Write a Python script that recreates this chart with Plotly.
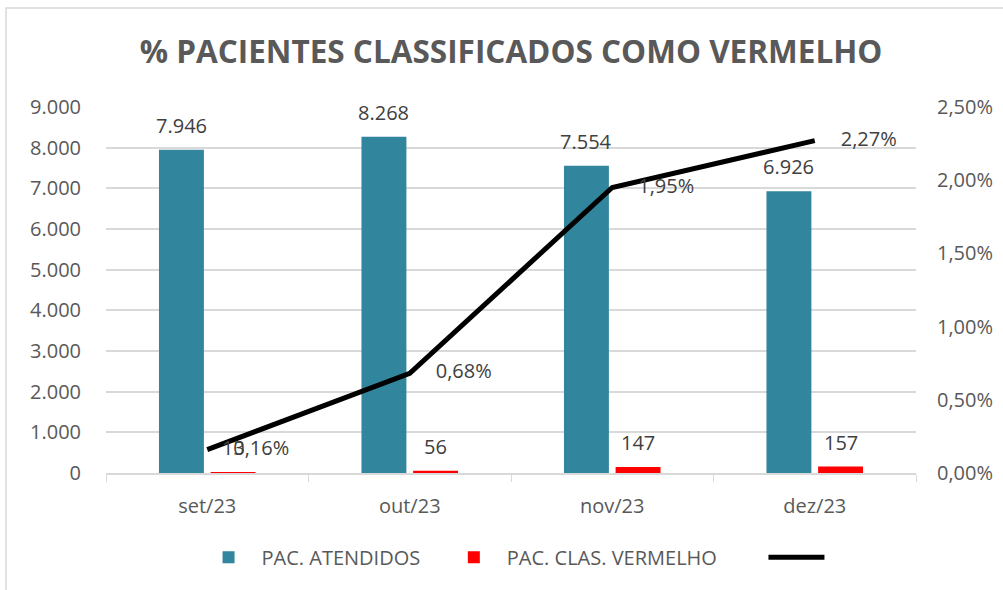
import plotly.graph_objects as go

# Monthly data
months = ["set/23", "out/23", "nov/23", "dez/23"]
atendidos = [7946, 8268, 7554, 6926]
vermelho = [13, 56, 147, 157]
pct_vermelho = [0.0016, 0.0068, 0.0195, 0.0227]

TEAL = "#31859C"
RED = "#FF0000"
TXT = "#595959"
LBL = "#404040"
GRID = "#D9D9D9"
FONT = "Open Sans"

BARGAP = 0.49
SLOT = (1 - BARGAP) / 2  # width of one bar slot inside a group, in category units

fig = go.Figure()

fig.add_trace(go.Bar(
    x=months, y=atendidos, name="PAC. ATENDIDOS   ",
    marker=dict(color=TEAL, line=dict(width=0)),
))
fig.add_trace(go.Bar(
    x=months, y=vermelho, name="PAC. CLAS. VERMELHO        ",
    marker=dict(color=RED, line=dict(width=0)),
))
fig.add_trace(go.Scatter(
    x=months, y=pct_vermelho, name="", yaxis="y2",
    mode="lines+text",
    line=dict(color="#000000", width=5),
    text=pct_vermelho, texttemplate="     %{y:.2%}", textposition="middle right",
    textfont=dict(family=FONT, size=20, color=LBL),
    cliponaxis=False,
))

# Value labels above each bar
for series, side in ((atendidos, -1), (vermelho, 1)):
    for i, v in enumerate(series):
        fig.add_annotation(
            x=i + side * SLOT / 2, y=v, xref="x", yref="y",
            text=f"{v:,}".replace(",", "."), showarrow=False,
            yanchor="bottom", yshift=9,
            font=dict(family=FONT, size=20, color=LBL),
        )

# Chart border
fig.add_shape(type="rect", xref="paper", yref="paper",
              x0=-0.1235, x1=1.3, y0=-0.5, y1=1.2705,
              line=dict(color=GRID, width=1.5), layer="below")

fig.update_layout(
    width=1003, height=590,
    margin=dict(l=106, r=87, t=107, b=117, autoexpand=False),
    paper_bgcolor="white", plot_bgcolor="white",
    separators=",.",
    barmode="group", bargap=BARGAP, bargroupgap=0.13,
    font=dict(family=FONT, size=20, color=TXT),
    title=dict(
        text="<b>% PACIENTES CLASSIFICADOS COMO VERMELHO</b>",
        font=dict(family=FONT, size=31.5, color=TXT),
        x=511 / 1003, xanchor="center", xref="container",
        y=1 - 52 / 590, yanchor="middle", yref="container",
    ),
    xaxis=dict(
        showgrid=False, showline=True, linecolor=GRID, linewidth=1.5,
        ticks="outside", tickson="boundaries", ticklen=7, tickcolor=GRID,
        tickfont=dict(family=FONT, size=20, color=TXT),
        ticklabelstandoff=14,
    ),
    yaxis=dict(
        range=[0, 9000], dtick=1000, tickformat=",.0f",
        showgrid=True, gridcolor=GRID, gridwidth=1.5,
        zeroline=False, showline=False,
        tickfont=dict(family=FONT, size=20, color=TXT),
        ticklabelstandoff=24,
    ),
    yaxis2=dict(
        range=[0, 0.025], dtick=0.005, tickformat=".2%",
        overlaying="y", side="right", showgrid=False,
        zeroline=False, showline=False,
        tickfont=dict(family=FONT, size=20, color=TXT),
        ticklabelstandoff=20,
    ),
    legend=dict(
        orientation="h", x=0.505, xanchor="center",
        y=-0.23, yanchor="middle",
        font=dict(family=FONT, size=20, color=TXT),
        itemwidth=56, tracegroupgap=0,
    ),
    showlegend=True,
)

fig.write_html("out.html")
